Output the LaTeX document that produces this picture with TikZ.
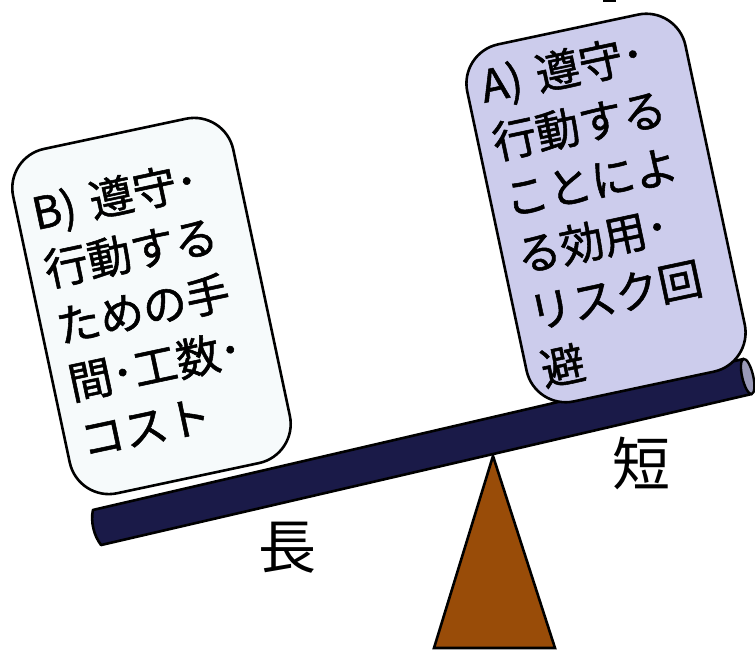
\documentclass[tikz,border=0pt]{standalone}
\usepackage{fontspec}
\newfontfamily\jp[FakeBold=1.2]{Noto Sans CJK JP}
\newfontfamily\jplbl{Noto Sans CJK JP}
\definecolor{barnavy}{HTML}{1A1A48}
\definecolor{barend}{HTML}{9A9AB8}
\definecolor{fulcrum}{HTML}{994C08}
\definecolor{boxA}{HTML}{CCCCEC}
\definecolor{boxB}{HTML}{F6FAFB}
\tikzset{
  card/.style={draw=black, line width=2.6pt, rounded corners=40pt, rotate=12,
    inner sep=4pt, text width=194pt, align=left, font=\fontsize{44}{58}\selectfont\jp},
  lbl/.style={font=\fontsize{58}{60}\selectfont\jplbl, inner sep=0pt}
}
\begin{document}
\begin{tikzpicture}[x=1pt,y=-1pt]
\path[use as bounding box] (0,0) rectangle (755,652);
% fulcrum
\coordinate (apex) at (493,456);
\coordinate (bl) at (434,648);
\coordinate (br) at (555,648);
\draw[fill=fulcrum, line width=2.6pt, line join=miter] (apex) -- (br) -- (bl) -- cycle;
% bar
\begin{scope}[shift={(97,527.5)}, rotate=13.07]
  \draw[fill=barnavy, line width=2.6pt, line join=round]
    (0,-18) -- (668,-18) -- (668,18) -- (0,18) .. controls (-5,7) and (-5,-7) .. (0,-18) -- cycle;
  \draw[fill=barend, line width=2.4pt] (668,0) ellipse [x radius=5.5, y radius=18];
\end{scope}
% cards
\node[card, fill=boxB, minimum width=225pt, minimum height=352pt] (B) at (151.5,306)
  {B) 遵守･\\行動する\\ための手\\間･工数･\\コスト};
\node[card, fill=boxA, minimum width=223pt, minimum height=365pt] (A) at (606,208)
  {A) 遵守･\\行動する\\ことによ\\る効用･\\リスク回\\避};
% labels
\node[lbl] (long) at (287,548) {長};
\node[lbl] (short) at (641,463) {短};
% top mark
\fill (603,0) rectangle (616,2);
\end{tikzpicture}
\end{document}
